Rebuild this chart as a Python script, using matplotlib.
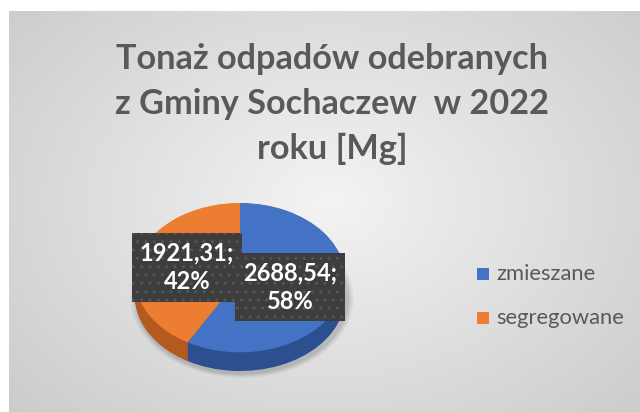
import numpy as np
import matplotlib
matplotlib.use("Agg")
import matplotlib.pyplot as plt

categories = ["zmieszane", "segregowane"]
values = [2688.54, 1921.31]
colors = ["#4472C4", "#ED7D31"]
side_colors = ["#2c4f8f", "#b25a1f"]
title = "Tonaż odpadów odebranych\nz Gminy Sochaczew  w 2022\nroku [Mg]"

W, H = 640, 412
fig = plt.figure(figsize=(W / 100, H / 100), dpi=100)
fig.patch.set_facecolor("white")

# background panel with radial gradient
px0, py0 = 9, 11
bg = fig.add_axes([px0 / W, 0, (W - px0) / W, (H - py0) / H])
bg.set_axis_off()
yy, xx = np.mgrid[0:H - py0, 0:W - px0]
cx, cy = 320, 190
r = np.sqrt(((xx - cx) / 360.0) ** 2 + ((yy - cy) / 260.0) ** 2)
light, dark = 0.955, 0.79
img = light - (light - dark) * np.clip(r, 0, 1.25) / 1.25
bg.imshow(np.dstack([img, img, img]), aspect="auto", extent=[0, 1, 0, 1], origin="upper")
bg.set_xlim(0, 1)
bg.set_ylim(0, 1)

fig.text(332 / W, 1 - 104 / H, title, ha="center", va="center",
         fontsize=24.7, fontweight="bold", color="#595959", family="Lato",
         linespacing=1.5)

# pie axes
x_left, x_right, y_top, y_bot = 135, 345, 203, 371
depth = 0.25
ax = fig.add_axes([x_left / W, (H - y_bot) / H, (x_right - x_left) / W, (y_bot - y_top) / H])
ax.set_axis_off()

# soft shadow
for k, a in zip([1.06, 1.04, 1.02], [0.05, 0.06, 0.08]):
    ax.pie(values, radius=k, center=(0.02, -depth - 0.03), colors=["#000000"] * 2,
           startangle=90, counterclock=False, wedgeprops=dict(alpha=a, linewidth=0))

for d in np.linspace(depth, 0.005, 25):
    ax.pie(values, radius=1, center=(0, -d), colors=side_colors,
           startangle=90, counterclock=False, wedgeprops=dict(linewidth=0))
ax.pie(values, radius=1, center=(0, 0), colors=colors,
       startangle=90, counterclock=False, wedgeprops=dict(linewidth=0))
ax.set_aspect("auto")
ax.set_xlim(-1, 1)
ax.set_ylim(-1 - depth, 1)

total = sum(values)
label_pos = [(0.475, -0.13), (-0.505, 0.135)]
for i in [0, 1]:
    pct = round(values[i] / total * 100)
    txt = f"{values[i]:.2f}".replace(".", ",") + f";\n{pct}%"
    ax.text(label_pos[i][0], label_pos[i][1], txt, ha="center", va="center",
            fontsize=17, fontweight="bold", color="white", family="Lato",
            linespacing=1.3, zorder=10 + i,
            bbox=dict(boxstyle="square,pad=0.35", facecolor="#3d3d3d",
                      edgecolor="#555555", hatch="..", linewidth=0))

# legend
for i, (cat, col) in enumerate(zip(categories, colors)):
    yc = 274 + i * 44
    fig.patches.append(plt.Rectangle((477 / W, 1 - (yc + 6) / H), 12 / W, 12 / H,
                                     transform=fig.transFigure, facecolor=col,
                                     edgecolor="none"))
    fig.text(496 / W, 1 - yc / H, cat, ha="left", va="center", fontsize=15.8,
             color="#595959", family="Lato")

fig.savefig("out.png", dpi=100, facecolor="white")
